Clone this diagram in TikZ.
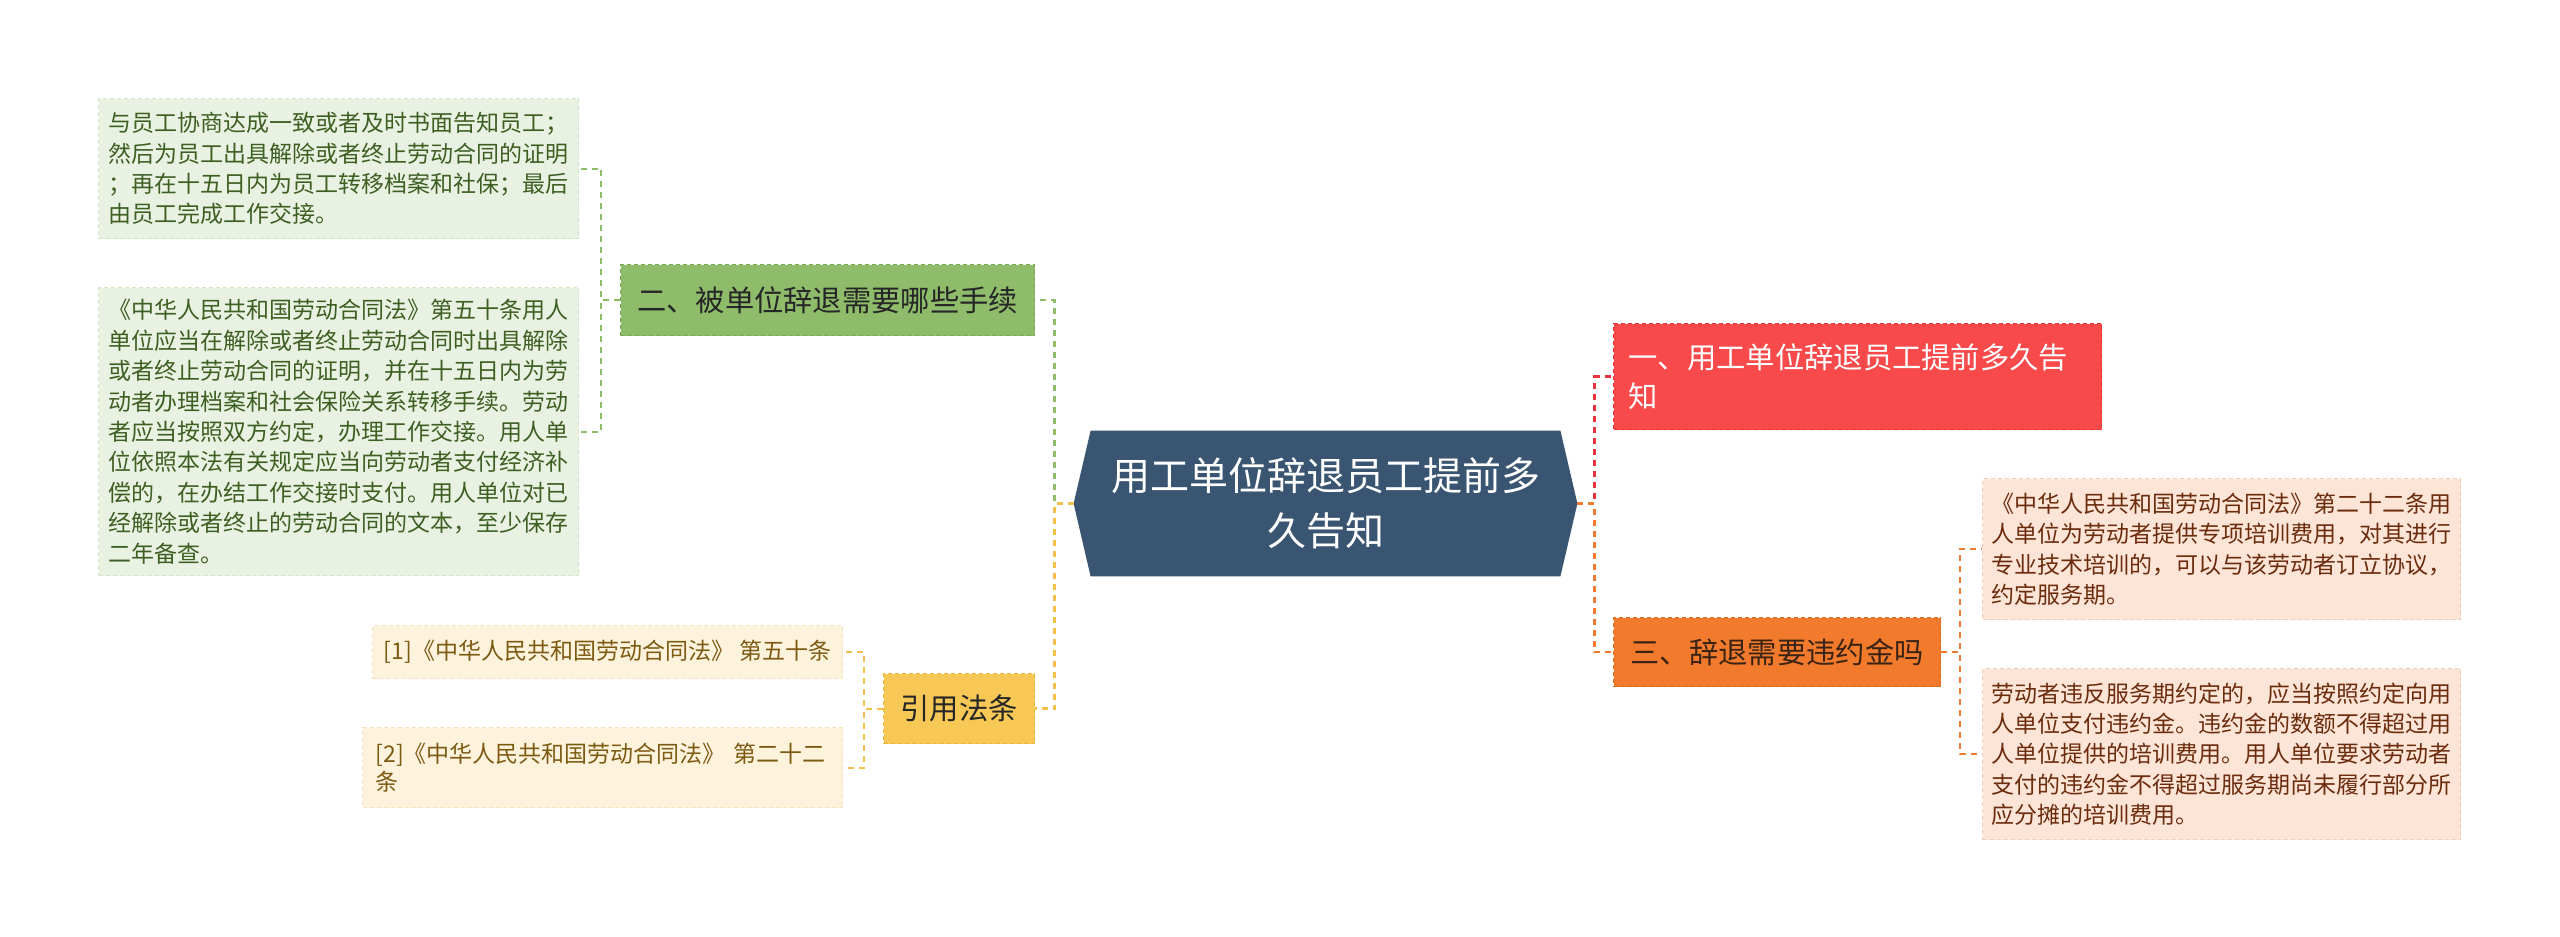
\documentclass[tikz,border=0pt]{standalone}
\usepackage{fontspec}
\setmainfont{Noto Sans CJK SC}
\usetikzlibrary{backgrounds}
\definecolor{lgfill}{HTML}{E9F2E2}
\definecolor{lgtext}{HTML}{3E5F22}
\definecolor{lgborder}{HTML}{D3E4C4}
\definecolor{gfill}{HTML}{8FBC6B}
\definecolor{gborder}{HTML}{78A855}
\definecolor{cfill}{HTML}{3A5571}
\definecolor{yfill}{HTML}{F7C855}
\definecolor{yborder}{HTML}{E9B23A}
\definecolor{yline}{HTML}{F2C14C}
\definecolor{cfillref}{HTML}{FDF3DC}
\definecolor{refborder}{HTML}{F3E2BC}
\definecolor{reftext}{HTML}{7D5A12}
\definecolor{redfill}{HTML}{F84A4A}
\definecolor{redborder}{HTML}{E43538}
\definecolor{redline}{HTML}{E8333F}
\definecolor{ofill}{HTML}{F17A2C}
\definecolor{oborder}{HTML}{DC6A1E}
\definecolor{oline}{HTML}{EE7B30}
\definecolor{otext}{HTML}{3B2314}
\definecolor{pfill}{HTML}{FCE4D6}
\definecolor{pborder}{HTML}{F0CDB8}
\definecolor{ptext}{HTML}{6B2C0D}
\begin{document}
\begin{tikzpicture}[x=0.5pt,y=-0.5pt,
  box/.style={anchor=north west, inner sep=0pt, dash pattern=on 2pt off 1.5pt, line width=0.6pt},
  leaffont/.style={font={\fontsize{11.5}{15.2}\selectfont}},
  branchfont/.style={font={\fontsize{14.65}{19.5}\selectfont}},
  lleaf/.style={box, leaffont, fill=lgfill, draw=lgborder, text=lgtext, align=left, text width=230pt, minimum width=240pt},
  rleaf/.style={box, leaffont, fill=pfill, draw=pborder, text=ptext, align=left, text width=230pt, minimum width=239pt},
  refleaf/.style={box, font={\fontsize{11.5}{14}\selectfont}, fill=cfillref, draw=refborder, text=reftext, align=left},
  maincon/.style={line width=1.3pt, dash pattern=on 3pt off 2.5pt},
  leafcon/.style={line width=0.9pt, dash pattern=on 3pt off 2.5pt}
]
\useasboundingbox (0,0) rectangle (2560,937);
% central node
\node[inner sep=0pt, minimum width=251.5pt, minimum height=72.5pt, align=center, text=white,
  font={\fontsize{19.5}{27.5}\selectfont}] (c) at (1325.5,503.5) {用工单位辞退员工提前多\\久告知};
\begin{scope}[on background layer]
\fill[cfill] (c.west) -- ([xshift=8.5pt]c.north west) -- ([xshift=-8.5pt]c.north east) -- (c.east)
  -- ([xshift=-8.5pt]c.south east) -- ([xshift=8.5pt]c.south west) -- cycle;
\end{scope}
% branches
\node[box, branchfont, fill=gfill, draw=gborder, text=black!85, minimum width=207pt, minimum height=35.5pt] (g) at (620,264) {二、被单位辞退需要哪些手续};
\node[box, branchfont, fill=yfill, draw=yborder, text=black!85, minimum width=75.5pt, minimum height=35pt] (y) at (883,673) {引用法条};
\node[box, branchfont, fill=redfill, draw=redborder, text=white, align=left, text width=229pt, minimum width=244pt, minimum height=53pt] (r) at (1613,323) {一、用工单位辞退员工提前多久告\\知};
\node[box, branchfont, fill=ofill, draw=oborder, text=otext, minimum width=163.5pt, minimum height=34.5pt] (o) at (1613,617) {三、辞退需要违约金吗};
% left leaves
\node[lleaf, minimum height=70pt] (l1) at (98,98) {与员工协商达成一致或者及时书面告知员工；\\然后为员工出具解除或者终止劳动合同的证明\\；再在十五日内为员工转移档案和社保；最后\\由员工完成工作交接。};
\node[lleaf, minimum height=144pt] (l2) at (98,287) {《中华人民共和国劳动合同法》第五十条用人\\单位应当在解除或者终止劳动合同时出具解除\\或者终止劳动合同的证明，并在十五日内为劳\\动者办理档案和社会保险关系转移手续。劳动\\者应当按照双方约定，办理工作交接。用人单\\位依照本法有关规定应当向劳动者支付经济补\\偿的，在办结工作交接时支付。用人单位对已\\经解除或者终止的劳动合同的文本，至少保存\\二年备查。};
% reference leaves
\node[refleaf, minimum width=235pt, minimum height=26.5pt] (f1) at (372,625) {[1]《中华人民共和国劳动合同法》 第五十条};
\node[refleaf, text width=227pt, minimum width=240pt, minimum height=40pt] (f2) at (362,727) {[2]《中华人民共和国劳动合同法》 第二十二\\条};
% right leaves
\node[rleaf, minimum height=70.5pt] (p1) at (1982,478) {《中华人民共和国劳动合同法》第二十二条用\\人单位为劳动者提供专项培训费用，对其进行\\专业技术培训的，可以与该劳动者订立协议，\\约定服务期。};
\node[rleaf, minimum height=85.5pt] (p2) at (1982,668) {劳动者违反服务期约定的，应当按照约定向用\\人单位支付违约金。违约金的数额不得超过用\\人单位提供的培训费用。用人单位要求劳动者\\支付的违约金不得超过服务期尚未履行部分所\\应分摊的培训费用。};
% connectors from centre
\draw[maincon, draw=gfill] (c.west) -- ++(-19,0) |- (g.east);
\draw[maincon, draw=yline] (c.west) -- ++(-19,0) |- (y.east);
\draw[maincon, draw=redline] (c.east) -- ++(17,0) |- (r.west);
\draw[maincon, draw=oline] (c.east) -- ++(17,0) |- (o.west);
% connectors to leaves
\draw[leafcon, draw=gfill] (g.west) -- ++(-19,0) |- (l1.east);
\draw[leafcon, draw=gfill] (g.west) -- ++(-19,0) |- (l2.east);
\draw[leafcon, draw=yline] (y.west) -- ++(-19,0) |- (f1.east);
\draw[leafcon, draw=yline] (y.west) -- ++(-19,0) |- (f2.east);
\draw[leafcon, draw=oline] (o.east) -- ++(19,0) |- (p1.west);
\draw[leafcon, draw=oline] (o.east) -- ++(19,0) |- (p2.west);
\end{tikzpicture}
\end{document}
